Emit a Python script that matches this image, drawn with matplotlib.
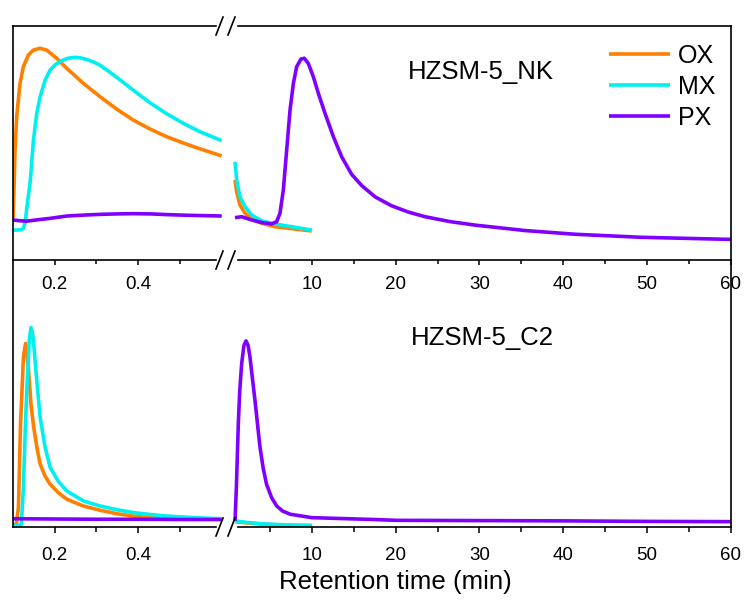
import matplotlib
matplotlib.use("Agg")
import matplotlib.pyplot as plt
from matplotlib.lines import Line2D

plt.rcParams['font.family'] = ['Liberation Sans', 'DejaVu Sans']

# ---------------- data (x in min, y in arbitrary units 0..1) ----------------
series_names = ["OX", "MX", "PX"]
colors = ["#FF8000", "#00F0F0", "#8000FF"]

# Top panel (HZSM-5_NK), left segment 0.1-0.6 min
nk_ox_l_x = [0.100, 0.1007, 0.1048, 0.1088, 0.1168, 0.1248, 0.1368, 0.1488, 0.1647, 0.1807, 0.2047,
             0.2287, 0.2686, 0.3084, 0.3483, 0.3882, 0.428, 0.468, 0.508, 0.548, 0.6]
nk_ox_l_y = [0.18, 0.185, 0.47, 0.612, 0.755, 0.826, 0.876, 0.897, 0.905, 0.897, 0.862,
             0.819, 0.755, 0.698, 0.645, 0.598, 0.56, 0.527, 0.50, 0.475, 0.445]
nk_mx_l_x = [0.100, 0.110, 0.120, 0.125, 0.129, 0.135, 0.141, 0.149, 0.157, 0.165, 0.177, 0.189,
             0.201, 0.213, 0.231, 0.249, 0.262, 0.276, 0.292, 0.308, 0.328, 0.348, 0.368, 0.388,
             0.428, 0.469, 0.508, 0.548, 0.6]
nk_mx_l_y = [0.128, 0.128, 0.130, 0.135, 0.16, 0.25, 0.33, 0.513, 0.627, 0.698, 0.769, 0.812,
             0.834, 0.849, 0.862, 0.866, 0.864, 0.857, 0.847, 0.833, 0.808, 0.781, 0.754, 0.726,
             0.672, 0.624, 0.584, 0.548, 0.51]
nk_px_l_x = [0.1, 0.115, 0.133, 0.16, 0.189, 0.229, 0.27, 0.308, 0.35, 0.388, 0.43, 0.468, 0.52, 0.6]
nk_px_l_y = [0.171, 0.168, 0.166, 0.172, 0.178, 0.188, 0.192, 0.195, 0.197, 0.198, 0.197, 0.194, 0.191, 0.188]

# Top panel, right segment
nk_ox_r_x = [0.835, 1.03, 1.43, 2.03, 2.83, 4.02, 5.61, 7.6, 9.98]
nk_ox_r_y = [0.342, 0.292, 0.235, 0.20, 0.175, 0.157, 0.142, 0.134, 0.124]
nk_mx_r_x = [0.835, 1.03, 1.43, 2.03, 2.83, 4.02, 5.61, 7.6, 9.98]
nk_mx_r_y = [0.42, 0.342, 0.27, 0.228, 0.192, 0.167, 0.154, 0.142, 0.128]
nk_px_r_x = [0.835, 1.63, 2.83, 4.02, 5.21, 5.81, 6.2, 6.6, 7.0, 7.4, 7.8, 8.19, 8.71, 9.1, 9.58,
             10.18, 10.78, 11.57, 12.57, 13.56, 14.75, 15.95, 17.54, 19.5, 21.5, 23.5, 26.5,
             29.5, 35.4, 41.4, 49.3, 60.0]
nk_px_r_y = [0.181, 0.185, 0.171, 0.16, 0.154, 0.164, 0.2, 0.299, 0.47, 0.641, 0.755, 0.826,
             0.859, 0.862, 0.84, 0.783, 0.712, 0.627, 0.527, 0.441, 0.366, 0.318, 0.27, 0.232,
             0.205, 0.185, 0.164, 0.149, 0.126, 0.11, 0.097, 0.088]

# Bottom panel (HZSM-5_C2), left segment
c2_ox_l_x = [0.1, 0.108, 0.113, 0.118, 0.125, 0.130, 0.137, 0.143, 0.149, 0.157, 0.165, 0.177,
             0.189, 0.209, 0.229, 0.268, 0.308, 0.348, 0.388, 0.428, 0.5, 0.6]
c2_ox_l_y = [0.008, 0.01, 0.073, 0.386, 0.636, 0.687, 0.594, 0.46, 0.38, 0.30, 0.236, 0.19,
             0.16, 0.128, 0.104, 0.079, 0.063, 0.05, 0.041, 0.035, 0.031, 0.029]
c2_mx_l_x = [0.1, 0.115, 0.12, 0.125, 0.129, 0.133, 0.139, 0.143, 0.146, 0.149, 0.153, 0.157,
             0.165, 0.177, 0.189, 0.209, 0.229, 0.268, 0.308, 0.348, 0.388, 0.428, 0.468, 0.548, 0.6]
c2_mx_l_y = [0.006, 0.006, 0.01, 0.15, 0.35, 0.511, 0.699, 0.747, 0.73, 0.699, 0.62, 0.549,
             0.411, 0.298, 0.223, 0.17, 0.135, 0.098, 0.079, 0.065, 0.054, 0.047, 0.041, 0.034, 0.031]
c2_px_l_x = [0.1, 0.2, 0.3, 0.4, 0.5, 0.6]
c2_px_l_y = [0.031, 0.030, 0.029, 0.029, 0.028, 0.028]

# Bottom panel, right segment
c2_ox_r_x = [0.84, 2.0, 4.0, 6.0, 8.0, 10.0]
c2_ox_r_y = [0.02, 0.016, 0.011, 0.008, 0.006, 0.005]
c2_mx_r_x = [0.84, 2.0, 4.0, 6.0, 8.0, 10.0]
c2_mx_r_y = [0.023, 0.018, 0.012, 0.009, 0.007, 0.006]
c2_px_r_x = [0.84, 1.0, 1.23, 1.4, 1.63, 1.9, 2.15, 2.4, 2.62, 2.9, 3.22, 3.52, 3.82, 4.2, 4.6,
             5.2, 5.8, 6.5, 7.4, 10.0, 17.5, 20.0, 30.0, 40.0, 50.0, 60.0]
c2_px_r_y = [0.023, 0.15, 0.386, 0.51, 0.612, 0.68, 0.697, 0.68, 0.637, 0.56, 0.474, 0.385, 0.298,
             0.22, 0.16, 0.11, 0.079, 0.06, 0.048, 0.035, 0.028, 0.025, 0.024, 0.023, 0.021, 0.02]

left_major = [0.2, 0.4]
left_minor = [0.3, 0.5]
right_major = [10, 20, 30, 40, 50, 60]
right_minor = [5, 15, 25, 35, 45, 55]

# ---------------- layout (pixel positions) ----------------
W, H = 750, 601
fig = plt.figure(figsize=(7.5, 6.01), dpi=100)

x_left0, x_left1 = 13, 221.7
x_right0, x_right1 = 228, 731
y_top, y_mid, y_bot = 26, 260, 527


def fr(x0, x1, ytop, ybottom):
    return [x0 / W, 1 - ybottom / H, (x1 - x0) / W, (ybottom - ytop) / H]


axTL = fig.add_axes(fr(x_left0, x_left1, y_top, y_mid))
axTR = fig.add_axes(fr(x_right0, x_right1, y_top, y_mid))
axBL = fig.add_axes(fr(x_left0, x_left1, y_mid, y_bot))
axBR = fig.add_axes(fr(x_right0, x_right1, y_mid, y_bot))

lw = 2.6
spine_w = 1.2

data = {
    axTL: [(nk_ox_l_x, nk_ox_l_y), (nk_mx_l_x, nk_mx_l_y), (nk_px_l_x, nk_px_l_y)],
    axTR: [(nk_ox_r_x, nk_ox_r_y), (nk_mx_r_x, nk_mx_r_y), (nk_px_r_x, nk_px_r_y)],
    axBL: [(c2_ox_l_x, c2_ox_l_y), (c2_mx_l_x, c2_mx_l_y), (c2_px_l_x, c2_px_l_y)],
    axBR: [(c2_ox_r_x, c2_ox_r_y), (c2_mx_r_x, c2_mx_r_y), (c2_px_r_x, c2_px_r_y)],
}

handles = []
for ax, ser in data.items():
    ax.set_facecolor('none')
    for (xs, ys), c, name in zip(ser, colors, series_names):
        ln, = ax.plot(xs, ys, color=c, lw=lw, solid_capstyle='butt',
                      solid_joinstyle='round', label=name)
        if ax is axTR:
            handles.append(ln)
    ax.set_ylim(0, 1)
    ax.set_yticks([])
    for s in ax.spines.values():
        s.set_linewidth(spine_w)

for ax in (axTL, axTR):
    ax.tick_params(axis='x', which='major', length=3.8, width=1.1, labelsize=13.5, pad=7.8, direction='out')
    ax.tick_params(axis='x', which='minor', length=3.2, width=1.1, direction='out')
for ax in (axBL, axBR):
    ax.tick_params(axis='x', which='major', length=4.2, width=1.1, labelsize=13.5, pad=10.2, direction='out')
    ax.tick_params(axis='x', which='minor', length=3.4, width=1.1, direction='out')

left_bound_end = 0.1 + (216 - 13) / 417.4
right_bound_start = (238 - 228) / (503 / 60)

for ax in (axTL, axBL):
    ax.set_xlim(0.1, 0.6)
    ax.set_xticks(left_major)
    ax.set_xticklabels(['0.2', '0.4'])
    ax.set_xticks(left_minor, minor=True)
    ax.spines['right'].set_visible(False)
    ax.spines['bottom'].set_bounds(0.1, left_bound_end)
    ax.spines['top'].set_bounds(0.1, left_bound_end)

for ax in (axTR, axBR):
    ax.set_xlim(0, 60)
    ax.set_xticks(right_major)
    ax.set_xticklabels([str(v) for v in right_major])
    ax.set_xticks(right_minor, minor=True)
    ax.spines['left'].set_visible(False)
    ax.spines['bottom'].set_bounds(right_bound_start, 60)
    ax.spines['top'].set_bounds(right_bound_start, 60)

for ax in (axBL, axBR):
    ax.spines['top'].set_visible(False)

# panel labels
axTR.text(21.4, (260 - 72) / 234, 'HZSM-5_NK', fontsize=18.5, ha='left', va='center')
axBR.text(21.8, (527 - 338) / 267, 'HZSM-5_C2', fontsize=18.5, ha='left', va='center')

# legend
fig.legend(handles=handles, labels=series_names, loc='upper left',
           bbox_to_anchor=(609 / W, 1 - 44 / H), frameon=False, fontsize=18,
           handlelength=2.45, handletextpad=0.3, labelspacing=0.28, borderpad=0,
           borderaxespad=0)

# x label
fig.text(395 / W, 1 - 582 / H, 'Retention time (min)', fontsize=18.6, ha='center', va='center')

# axis break marks
for yc in (y_top, y_mid, y_bot):
    for xs in (216, 228):
        fig.add_artist(Line2D([xs / W, (xs + 7) / W], [1 - (yc + 9) / H, 1 - (yc - 9) / H],
                              transform=fig.transFigure, color='black', lw=1.2))

fig.savefig('out.png', dpi=100)
